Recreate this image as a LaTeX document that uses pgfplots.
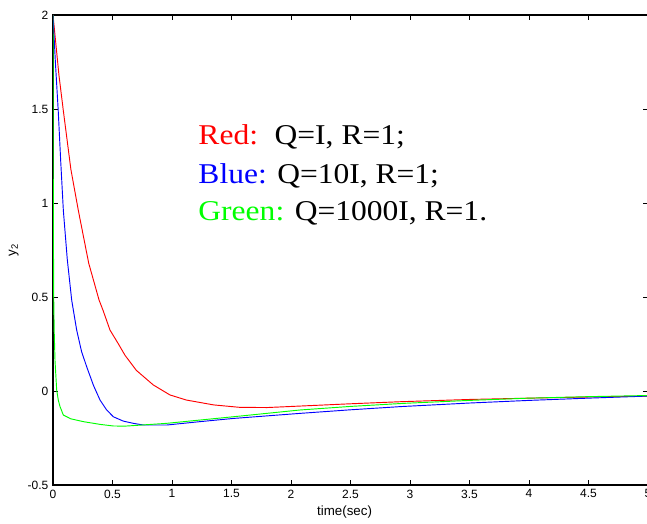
\documentclass[border=0pt]{standalone}
\usepackage{fontspec}
\setmainfont{Liberation Sans}
\newfontfamily\timesfont{Liberation Serif}
\usepackage{pgfplots}
\pgfplotsset{compat=1.18}

\begin{document}
\begin{tikzpicture}
\begin{axis}[
    name=ax,
    scale only axis,
    width=446.25pt,
    height=352.5pt,
    xmin=0, xmax=5,
    ymin=-0.5, ymax=2,
    xtick={0,0.5,...,5},
    ytick={-0.5,0,0.5,1,1.5,2},
    tick align=inside,
    major tick length=3.5pt,
    axis line style={line width=0.8pt},
    every tick/.style={black, line width=0.6pt},
    tick label style={font=\fontsize{9}{10.5}\selectfont},
    /pgf/number format/assume math mode=true,
    xlabel={time(sec)},
    ylabel={y\textsubscript{2}},
    label style={font=\fontsize{10}{12}\selectfont},
    xlabel style={at={(axis description cs:0.49,-0.058)}, anchor=center},
    ylabel style={at={(axis description cs:-0.066,0.5)}, anchor=center},
    clip=true,
]
\addplot[red, line width=0.7pt] coordinates {
    (0,2) (0.05,1.68) (0.087,1.49) (0.15,1.18) (0.213,0.96) (0.3,0.68)
    (0.387,0.484) (0.42,0.43) (0.479,0.324) (0.55,0.25) (0.605,0.19)
    (0.7,0.11) (0.843,0.032) (0.983,-0.021) (1.12,-0.048) (1.35,-0.074)
    (1.57,-0.087) (1.8,-0.088) (2.08,-0.08) (2.5,-0.068) (2.92,-0.057)
    (3.5,-0.045) (4,-0.038) (4.5,-0.032) (5,-0.027)
};
\addplot[blue, line width=0.7pt] coordinates {
    (0,2) (0.02,1.75) (0.044,1.49) (0.065,1.22) (0.087,0.96) (0.12,0.70)
    (0.157,0.484) (0.171,0.43) (0.199,0.324) (0.24,0.21) (0.283,0.129)
    (0.34,0.03) (0.395,-0.048) (0.45,-0.10) (0.507,-0.137) (0.59,-0.16)
    (0.675,-0.172) (0.76,-0.181) (0.955,-0.181) (1.235,-0.163)
    (1.515,-0.146) (2.076,-0.119) (2.5,-0.10) (2.92,-0.083) (3.5,-0.064)
    (4,-0.05) (4.5,-0.038) (5,-0.027)
};
\addplot[green, line width=0.7pt] coordinates {
    (0,2) (0.003,0.9) (0.006,0.5) (0.01,0.32) (0.017,0.16) (0.031,0.005)
    (0.045,-0.05) (0.059,-0.083) (0.087,-0.128) (0.15,-0.148)
    (0.255,-0.163) (0.4,-0.178) (0.507,-0.186) (0.6,-0.187)
    (0.675,-0.184) (0.955,-0.172) (1.515,-0.137) (2.076,-0.101)
    (2.5,-0.082) (2.94,-0.066) (3.5,-0.05) (4,-0.038) (4.5,-0.03) (5,-0.024)
};
\node[anchor=base west, inner sep=0pt, xscale=1.1, font=\timesfont\fontsize{21.5}{24}\selectfont]
    at (axis cs:1.22,1.31) {\textcolor{red}{Red:}\hspace{0.528em}Q=I, R=1;};
\node[anchor=base west, inner sep=0pt, xscale=1.1, font=\timesfont\fontsize{21.5}{24}\selectfont]
    at (axis cs:1.22,1.106) {\textcolor{blue}{Blue:} Q=10I, R=1;};
\node[anchor=base west, inner sep=0pt, xscale=1.1, font=\timesfont\fontsize{21.5}{24}\selectfont]
    at (axis cs:1.22,0.906) {\textcolor{green}{Green:} Q=1000I, R=1.};
\end{axis}
\pgfresetboundingbox
\useasboundingbox ([shift={(-39.75pt,-28.5pt)}]ax.south west) rectangle ([shift={(-0.75pt,11.25pt)}]ax.north east);
\end{tikzpicture}
\end{document}
